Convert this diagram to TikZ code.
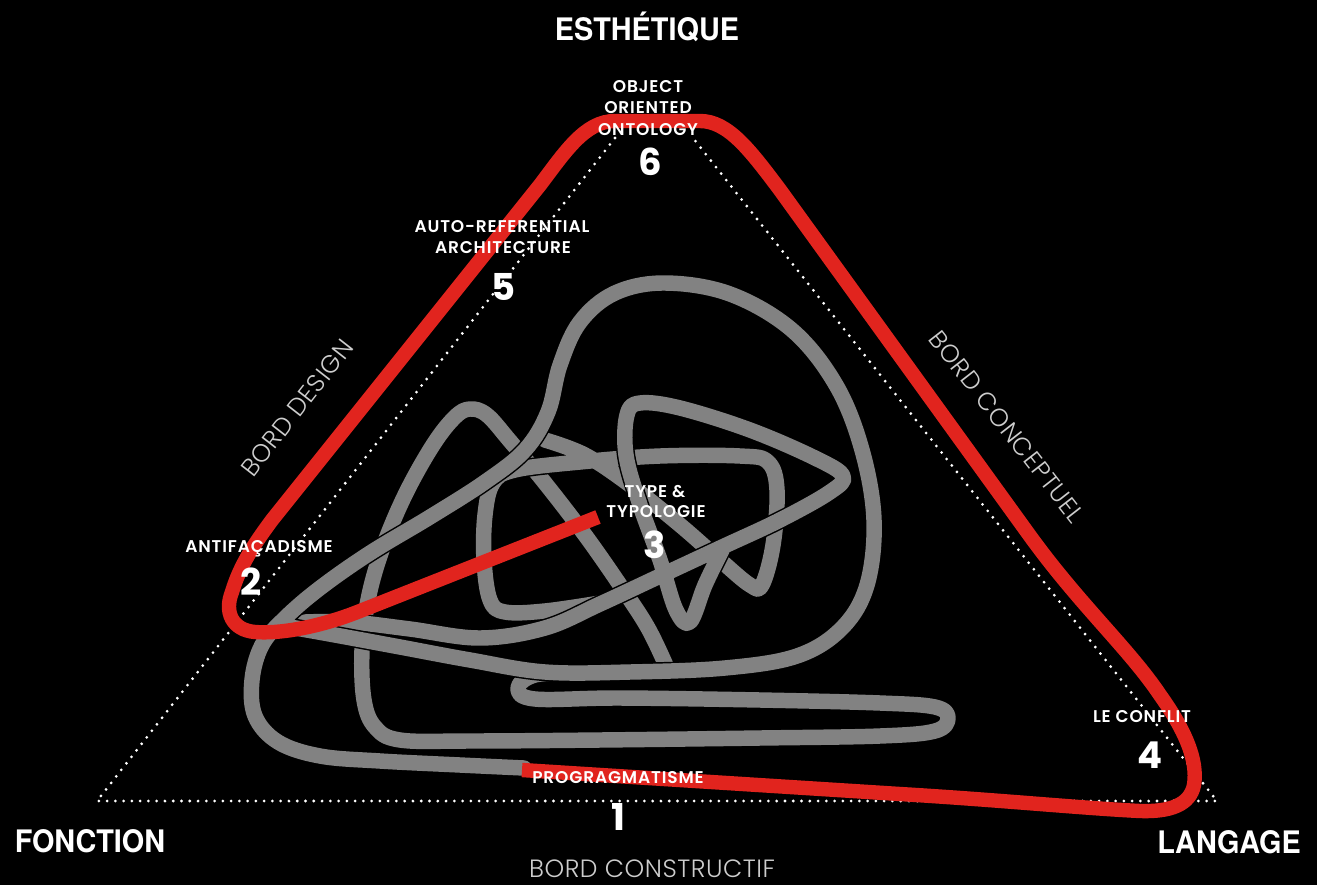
\documentclass[tikz,border=0pt]{standalone}
\usepackage{fontspec}
\newfontfamily\headfont[FakeStretch=0.93]{TeX Gyre Heros}
\newfontfamily\numfont{Poppins}
\newfontfamily\labfont{Poppins}[UprightFont={* SemiBold},LetterSpace=5]
\newfontfamily\bordfont{Poppins}[UprightFont={* Light},LetterSpace=2]
\definecolor{knotgray}{RGB}{130,130,130}
\definecolor{knotred}{RGB}{225,36,30}
\definecolor{bordgray}{RGB}{205,205,205}
\tikzset{
  dotline/.style={white, line width=2.3pt, line cap=round, dash pattern=on 0pt off 6.2pt},
  strand/.style={draw=black, line width=1.1pt, double=knotgray, double distance=11.6pt, line cap=round, line join=round},
  redline/.style={draw=knotred, line width=10.8pt, line join=round},
  headtext/.style={text=white, font=\headfont\bfseries\fontsize{23.25}{26}\selectfont, anchor=base, inner sep=0pt},
  numtext/.style={text=white, font=\numfont\bfseries\fontsize{27.75}{30}\selectfont, anchor=base, inner sep=0pt},
  labtext/.style={text=white, font=\labfont\fontsize{12.75}{14}\selectfont, anchor=base, inner sep=0pt},
  bordtext/.style={text=bordgray, font=\bordfont\fontsize{18.75}{20}\selectfont, inner sep=0pt},
}
\begin{document}
\begin{tikzpicture}[x=0.75pt,y=-0.75pt]
\useasboundingbox (0,0) rectangle (1317,885);
\fill[black] (0,0) rectangle (1317,885);
% dotted triangle
\coordinate (tl) at (615,138);
\coordinate (bl) at (97,801);
\coordinate (br) at (1217,801);
\coordinate (tr) at (693,138);
\draw[dotline] (tl) -- (bl) -- (br) -- (tr);
% gray knot: hairpin, inner left side and peak
\draw[strand] plot[smooth, tension=0.6] coordinates {
 (580,672) (535,675) (518,688) (535,699) (620,698) (760,700) (880,703) (935,707) (948,718) (935,731) (880,736) (760,738) (600,740) (470,741) (400,740) (375,727) (364,700) (362,650) (368,600) (382,550) (405,495) (433,445) (455,417) (470,409) (487,415) (510,441) (545,483) (585,535) (620,585) (648,628) (668,670)};
% inner left loop and box
\draw[strand] plot[smooth, tension=0.6] coordinates {
 (600,603) (545,611) (505,612) (490,600) (484,560) (485,515) (493,483) (515,470) (580,462) (660,456) (740,456) (768,462) (777,490) (773,545) (762,585) (750,585) (720,560) (680,525) (630,485) (585,455) (545,440)};
% right triangle loop and long diagonal
\draw[strand] plot[smooth, tension=0.6] coordinates {
 (722,550) (705,585) (690,622) (676,610) (660,560) (640,505) (626,455) (627,415) (640,403) (680,408) (750,430) (815,458) (843,476) (830,492) (780,520) (720,548) (660,576) (600,604) (545,628) (480,638) (410,629) (350,622) (305,622)};
% outer loop and big loop
\draw[strand] plot[smooth, tension=0.6] coordinates {
 (524,768) (460,765) (380,761) (320,756) (278,742) (255,716) (252,680) (262,645) (285,618) (320,588) (370,553) (430,517) (485,482) (525,450) (548,412) (560,365) (580,322) (615,293) (665,283) (730,294) (792,330) (836,385) (862,450) (874,520) (867,585) (842,628) (797,656) (725,668) (630,672) (545,672) (470,660) (400,647) (335,635) (290,627)};
% red path
\draw[redline] (598,517) -- (360,611)
  .. controls (320,627) and (280,634) .. (255,632)
  .. controls (232,630) and (224,612) .. (232,592)
  .. controls (240,565) and (255,543) .. (272,520)
  -- (540,185)
  .. controls (565,152) and (585,121) .. (615,121)
  -- (700,121)
  .. controls (728,121) and (750,150) .. (780,190)
  -- (1030,536)
  .. controls (1080,605) and (1130,650) .. (1160,695)
  .. controls (1185,730) and (1198,760) .. (1194,785)
  .. controls (1190,805) and (1170,812) .. (1140,811)
  .. controls (1080,808) and (1000,800) .. (900,794)
  -- (522,770);
% corner labels
\node[headtext] (esth) at (647,40) {ESTHÉTIQUE};
\node[headtext] (fonc) at (90,852) {FONCTION};
\node[headtext] (lang) at (1229,853) {LANGAGE};
% edge labels
\node[bordtext, anchor=base] (bconst) at (652,877) {BORD CONSTRUCTIF};
\node[bordtext, rotate=52] (bdes) at (297,408) {BORD DESIGN};
\node[bordtext, rotate=-52] (bconc) at (1007,427) {BORD CONCEPTUEL};
% station labels
\node[labtext] (ooo1) at (648,92) {OBJECT};
\node[labtext] (ooo2) at (648,113) {ORIENTED};
\node[labtext] (ooo3) at (648,135) {ONTOLOGY};
\node[numtext] (n6) at (650,175) {6};
\node[labtext] (ar1) at (502,232) {AUTO-REFERENTIAL};
\node[labtext] (ar2) at (503,253) {ARCHITECTURE};
\node[numtext] (n5) at (504,300) {5};
\node[labtext] (anti) at (259,552) {ANTIFAÇADISME};
\node[numtext] (n2) at (251,595) {2};
\node[labtext] (typ1) at (655,497) {TYPE \&};
\node[labtext] (typ2) at (656,517) {TYPOLOGIE};
\node[numtext] (n3) at (655,558) {3};
\node[labtext] (conf) at (1142,722) {LE CONFLIT};
\node[numtext] (n4) at (1150,768) {4};
\node[labtext] (prog) at (618,783) {PROGRAGMATISME};
\node[numtext] (n1) at (618,830) {1};
\end{tikzpicture}
\end{document}
